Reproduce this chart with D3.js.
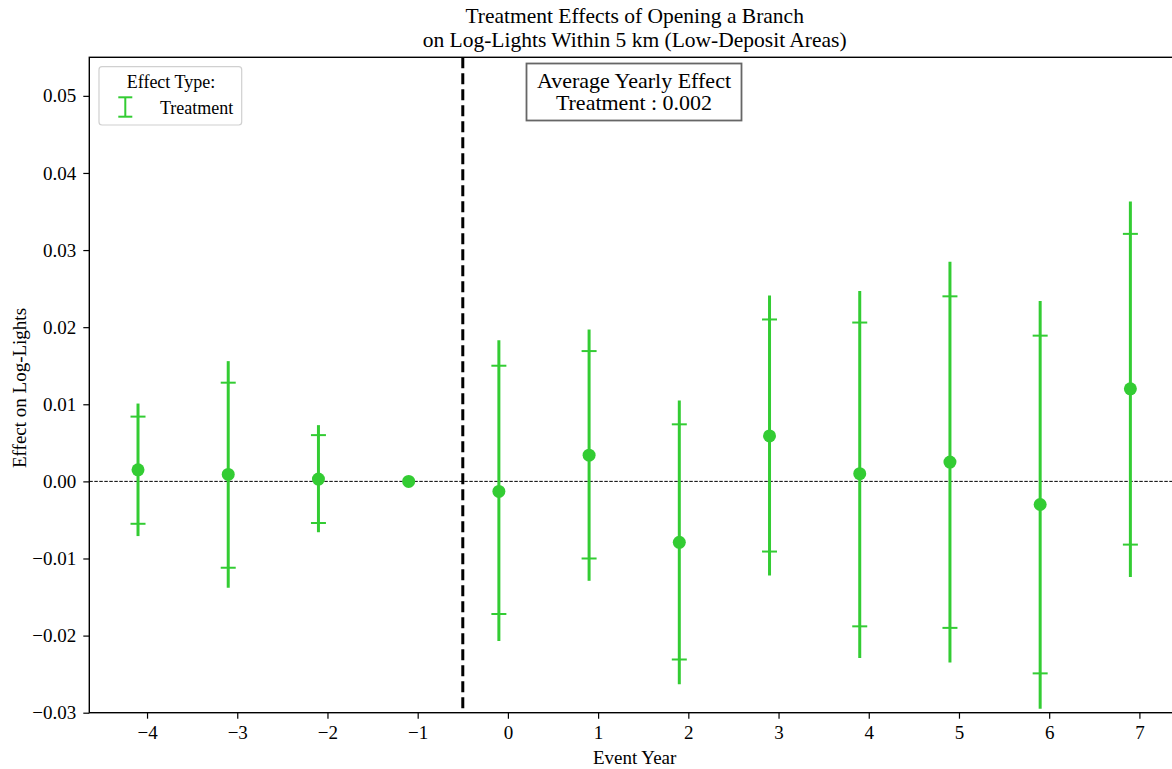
<!DOCTYPE html>
<html><head><meta charset="utf-8">
<script src="https://cdn.jsdelivr.net/npm/d3@7"></script>
<style>body{margin:0;background:#fff}svg{display:block}text{font-family:"Liberation Serif","Times New Roman",serif;fill:#000}</style>
</head><body>
<script>
const years = [-4,-3,-2,-1,0,1,2,3,4,5,6,7];
const estimate = [0.0015,0.0009,0.0003,0.0,-0.0013,0.0034,-0.0079,0.0059,0.0010,0.0025,-0.0030,0.0120];
const ci90Low  = [-0.0055,-0.0112,-0.0054,null,-0.0172,-0.0100,-0.0231,-0.0091,-0.0188,-0.0190,-0.0249,-0.0082];
const ci90High = [0.0084,0.0128,0.0060,null,0.0150,0.0169,0.0074,0.0210,0.0206,0.0240,0.0189,0.0321];
const ci95Low  = [-0.0069,-0.0136,-0.0064,null,-0.0205,-0.0127,-0.0261,-0.0120,-0.0227,-0.0233,-0.0293,-0.0122];
const ci95High = [0.0099,0.0154,0.0071,null,0.0181,0.0195,0.0103,0.0239,0.0245,0.0283,0.0232,0.0361];
const yTicks = [-0.03,-0.02,-0.01,0.00,0.01,0.02,0.03,0.04,0.05];
const xTicks = [-4,-3,-2,-1,0,1,2,3,4,5,6,7];
const titleLines = ["Treatment Effects of Opening a Branch","on Log-Lights Within 5 km (Low-Deposit Areas)"];
const annotLines = ["Average Yearly Effect","Treatment : 0.002"];
const dodge = -0.1;
const green = "#33cc33";

const W=1172,H=769;
const m={l:89.3,r:1180,t:57.3,b:712.7};
const svg=d3.select("body").append("svg").attr("width",W).attr("height",H);
const x=d3.scaleLinear().domain([-4.64,7.45]).range([m.l,m.r]);
const y=d3.scaleLinear().domain([-0.03,0.055]).range([m.b,m.t]);

// titles
svg.append("g").selectAll("text").data(titleLines).join("text")
  .attr("x",(m.l+m.r)/2).attr("y",(d,i)=>22.5+i*24.5).attr("text-anchor","middle")
  .style("font-size","21.5px").text(d=>d);

// zero line
svg.append("line").attr("x1",m.l).attr("x2",m.r).attr("y1",y(0)).attr("y2",y(0))
  .attr("stroke","#000").attr("stroke-width",1).attr("stroke-dasharray","3.5,1.5");
// vertical event line
svg.append("line").attr("x1",x(-0.5)).attr("x2",x(-0.5)).attr("y1",m.t).attr("y2",m.b)
  .attr("stroke","#000").attr("stroke-width",3).attr("stroke-dasharray","11,5");

const data=years.map((yr,i)=>({yr,est:estimate[i],l90:ci90Low[i],h90:ci90High[i],l95:ci95Low[i],h95:ci95High[i]}));
const g=svg.append("g");
const withCI=data.filter(d=>d.l95!==null);
g.selectAll("line.ci95").data(withCI).join("line").attr("class","ci95")
  .attr("x1",d=>x(d.yr+dodge)).attr("x2",d=>x(d.yr+dodge))
  .attr("y1",d=>y(d.l95)).attr("y2",d=>y(d.h95))
  .attr("stroke",green).attr("stroke-width",3).attr("stroke-linecap","square");
const caps=[];
withCI.forEach(d=>{caps.push({yr:d.yr,v:d.l90});caps.push({yr:d.yr,v:d.h90});});
g.selectAll("line.cap").data(caps).join("line").attr("class","cap")
  .attr("x1",d=>x(d.yr+dodge)-7.5).attr("x2",d=>x(d.yr+dodge)+7.5)
  .attr("y1",d=>y(d.v)).attr("y2",d=>y(d.v))
  .attr("stroke",green).attr("stroke-width",2);
g.selectAll("circle").data(data).join("circle")
  .attr("cx",d=>x(d.yr+dodge)).attr("cy",d=>y(d.est)).attr("r",6.5).attr("fill",green);

// axes
const xa=svg.append("g").attr("transform",`translate(0,${m.b})`)
  .call(d3.axisBottom(x).tickValues(xTicks).tickSize(6).tickPadding(7).tickFormat(d=>d<0?"\u2212"+Math.abs(d):d));
const ya=svg.append("g").attr("transform",`translate(${m.l},0)`)
  .call(d3.axisLeft(y).tickValues(yTicks).tickSize(6).tickPadding(7).tickFormat(d=>{const s=d3.format(".2f")(Math.abs(d));return d<0?"\u2212"+s:s;}));
[xa,ya].forEach(a=>{a.select(".domain").remove();a.selectAll("text").style("font-size","19px").attr("font-family","Liberation Serif");a.selectAll("line").attr("stroke-width",1.2);});
xa.selectAll("text").attr("dy","0.71em");
// spines
svg.append("rect").attr("x",m.l).attr("y",m.t).attr("width",m.r-m.l).attr("height",m.b-m.t)
  .attr("fill","none").attr("stroke","#000").attr("stroke-width",1.4);

svg.append("text").attr("x",(m.l+m.r)/2).attr("y",764).attr("text-anchor","middle").style("font-size","19px").text("Event Year");
svg.append("text").attr("transform",`translate(26,${(m.t+m.b)/2+3}) rotate(-90)`).attr("text-anchor","middle").style("font-size","19px").text("Effect on Log-Lights");

// legend
const lg=svg.append("g");
lg.append("rect").attr("x",99).attr("y",66.7).attr("width",142.7).attr("height",58.3).attr("rx",3)
  .attr("fill","#fff").attr("fill-opacity",0.8).attr("stroke","#d0d0d0").attr("stroke-width",1.2);
lg.append("text").attr("x",171).attr("y",88).attr("text-anchor","middle").style("font-size","18px").text("Effect Type:");
const lx=125.3;
lg.append("line").attr("x1",lx).attr("x2",lx).attr("y1",97.3).attr("y2",116.7).attr("stroke",green).attr("stroke-width",2);
lg.append("line").attr("x1",lx-7).attr("x2",lx+7).attr("y1",97.3).attr("y2",97.3).attr("stroke",green).attr("stroke-width",2);
lg.append("line").attr("x1",lx-7).attr("x2",lx+7).attr("y1",116.7).attr("y2",116.7).attr("stroke",green).attr("stroke-width",2);
lg.append("text").attr("x",160).attr("y",113.5).style("font-size","18px").text("Treatment");

// annotation
svg.append("rect").attr("x",526.5).attr("y",63.5).attr("width",215).attr("height",57)
  .attr("fill","#fff").attr("stroke","#666").attr("stroke-width",1.8);
svg.append("g").selectAll("text").data(annotLines).join("text")
  .attr("x",634).attr("y",(d,i)=>87.5+i*22.7).attr("text-anchor","middle").style("font-size","22px").text(d=>d);
</script>
</body></html>
